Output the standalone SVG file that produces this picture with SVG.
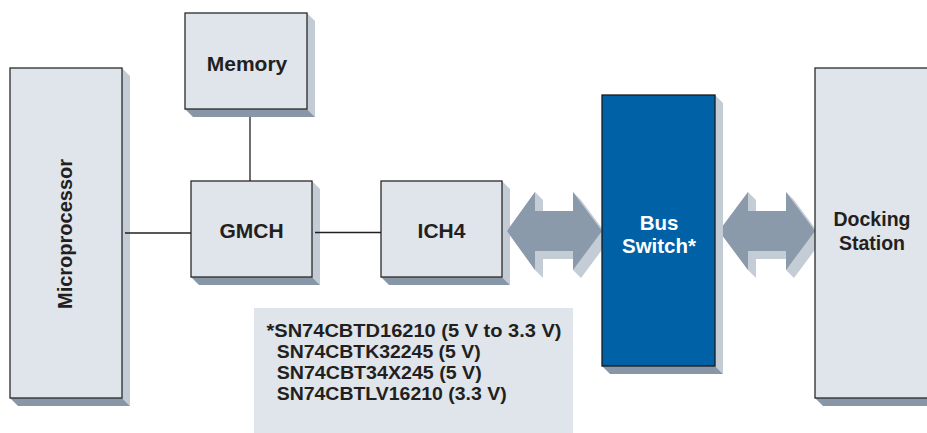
<svg xmlns="http://www.w3.org/2000/svg" width="927" height="433" viewBox="0 0 927 433">
<style>
.box{fill:#dfe5ea;stroke:#2a2a2a;stroke-width:1.3}
.rf{fill:#c3cbd5}
.bf{fill:#8797a8}
.lbl{font-family:"Liberation Sans",Arial,sans-serif;font-weight:bold;fill:#231f20;text-anchor:middle}
.wl{font-family:"Liberation Sans",Arial,sans-serif;font-weight:bold;fill:#ffffff;text-anchor:middle}
.note{font-family:"Liberation Sans",Arial,sans-serif;font-weight:bold;fill:#231f20;font-size:17.5px}
.ln{stroke:#231f20;stroke-width:1.3;fill:none}
.adark{fill:#8a9aaa}
.alight{fill:#c4ccd6}
</style>
<rect width="927" height="433" fill="#ffffff"/>
<g id="microprocessor">
<polygon class="rf" points="122,68 130,76 130,406 122,398"/>
<polygon class="bf" points="10,398 18,406 130,406 122,398"/>
<rect class="box" x="10" y="68" width="112" height="330"/>
<text class="lbl" font-size="20" transform="translate(72,234) rotate(-90)">Microprocessor</text>
</g>
<g id="memory">
<polygon class="rf" points="307,13 315,21 315,117 307,109"/>
<polygon class="bf" points="185,109 193,117 315,117 307,109"/>
<rect class="box" x="185" y="13" width="122" height="96"/>
<text class="lbl" font-size="21" x="247" y="70.5">Memory</text>
</g>
<g id="gmch">
<polygon class="rf" points="312,181 320,189 320,285 312,277"/>
<polygon class="bf" points="191,277 199,285 320,285 312,277"/>
<rect class="box" x="191" y="181" width="121" height="96"/>
<text class="lbl" font-size="21" x="251.5" y="238.3">GMCH</text>
</g>
<g id="ich4">
<polygon class="rf" points="502,181 510,189 510,285 502,277"/>
<polygon class="bf" points="381,277 389,285 510,285 502,277"/>
<rect class="box" x="381" y="181" width="121" height="96"/>
<text class="lbl" font-size="21" x="441.5" y="238.3">ICH4</text>
</g>
<g id="connectors">
<line class="ln" x1="250" y1="117" x2="250" y2="181"/>
<line class="ln" x1="125" y1="233" x2="191" y2="233"/>
<line class="ln" x1="315" y1="232.5" x2="381" y2="232.5"/>
<g id="arrow-ich4-bus">
<polygon class="alight" points="507,231 535,192 543,200 543,219 535,211 573,211 573,192 581,200 610,239 581,278 573,270 573,251 581,259 543,259 543,278 535,270"/>
<polygon class="adark" points="507,231 535,192 535,211 573,211 573,192 602,231 573,270 573,251 535,251 535,270"/>
</g>
<g id="arrow-bus-dock">
<polygon class="alight" points="719,231 748,192 756,200 756,219 748,211 786,211 786,192 794,200 823,239 794,278 786,270 786,251 794,259 756,259 756,278 748,270"/>
<polygon class="adark" points="719,231 748,192 748,211 786,211 786,192 815,231 786,270 786,251 748,251 748,270"/>
</g>
</g>
<g id="bus-switch">
<polygon class="rf" points="715,95 723,103 723,374 715,366"/>
<polygon class="bf" points="602,366 610,374 723,374 715,366"/>
<rect x="602" y="95" width="113" height="271" fill="#0061a7" stroke="#1a1a1a" stroke-width="1.3"/>
<text class="wl" font-size="20.5" x="659" y="230">Bus</text>
<text class="wl" font-size="20.5" x="659" y="253.3">Switch*</text>
</g>
<g id="docking-station">
<polygon class="bf" points="815,398 823,406 935,406 935,398"/>
<rect class="box" x="815" y="68" width="120" height="330"/>
<text class="lbl" font-size="19.5" x="872" y="225.7">Docking</text>
<text class="lbl" font-size="19.5" x="872" y="250">Station</text>
</g>
<g id="note">
<rect x="254" y="308" width="319" height="130" fill="#dfe5ea"/>
<text class="note" x="266.5" y="337" textLength="295" lengthAdjust="spacingAndGlyphs">*SN74CBTD16210 (5 V to 3.3 V)</text>
<text class="note" x="276.7" y="358" textLength="204" lengthAdjust="spacingAndGlyphs">SN74CBTK32245 (5 V)</text>
<text class="note" x="276.7" y="379" textLength="205" lengthAdjust="spacingAndGlyphs">SN74CBT34X245 (5 V)</text>
<text class="note" x="276.7" y="400" textLength="230" lengthAdjust="spacingAndGlyphs">SN74CBTLV16210 (3.3 V)</text>
</g>
</svg>
